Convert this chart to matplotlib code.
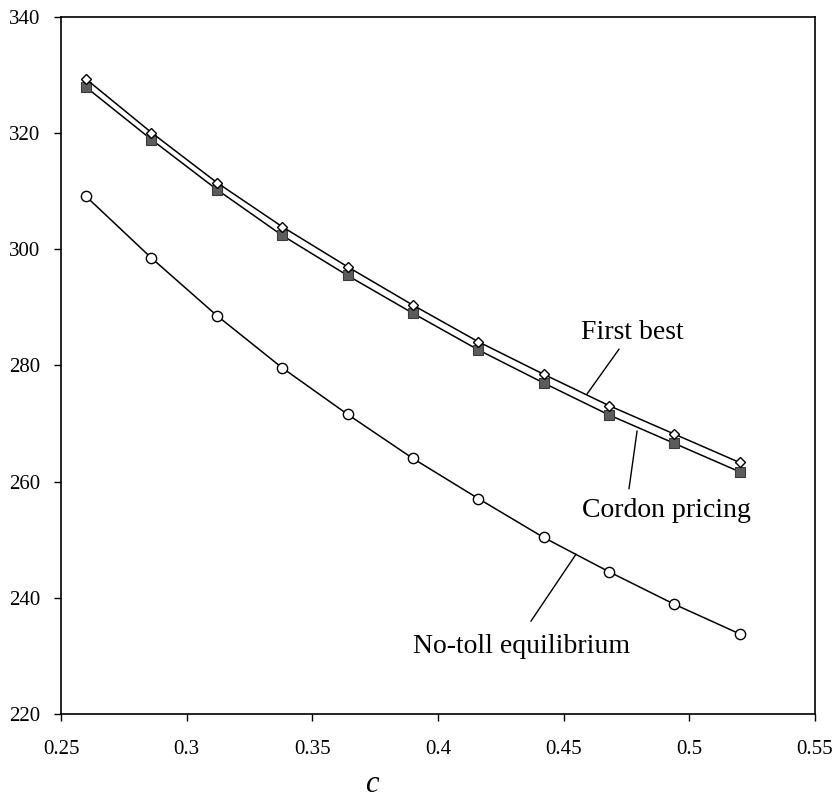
import matplotlib
matplotlib.use("Agg")
import matplotlib.pyplot as plt

c_values = [0.26, 0.286, 0.312, 0.338, 0.364, 0.39, 0.416, 0.442, 0.468, 0.494, 0.52]
first_best = [329.3, 320.1, 311.5, 303.9, 297.0, 290.4, 284.1, 278.5, 273.1, 268.2, 263.3]
cordon_pricing = [327.9, 318.9, 310.3, 302.4, 295.5, 289.0, 282.7, 277.0, 271.5, 266.6, 261.7]
no_toll = [309.1, 298.5, 288.6, 279.6, 271.6, 264.0, 257.1, 250.4, 244.5, 238.9, 233.8]

x_ticks = [0.25, 0.3, 0.35, 0.4, 0.45, 0.5, 0.55]
x_tick_labels = ["0.25", "0.3", "0.35", "0.4", "0.45", "0.5", "0.55"]
y_ticks = [220, 240, 260, 280, 300, 320, 340]
y_tick_labels = ["220", "240", "260", "280", "300", "320", "340"]

plt.rcParams['font.family'] = ['Liberation Serif', 'DejaVu Serif']

fig = plt.figure(figsize=(8.4, 8.0), dpi=100)
ax = fig.add_axes([61/840, 1 - 714/800, (815-61)/840, (714-17)/800])

ax.plot(c_values, no_toll, color='black', lw=1.1, marker='o', ms=7.4,
        mfc='white', mec='black', mew=1.0, zorder=3)
ax.plot(c_values, cordon_pricing, color='black', lw=1.1, marker='s', ms=7.8,
        mfc='#5c5c5c', mec='#3a3a3a', mew=0.8, zorder=3)
ax.plot(c_values, first_best, color='black', lw=1.1, marker='D', ms=5.6,
        mfc='white', mec='black', mew=1.0, zorder=4)

ax.set_xlim(0.25, 0.55)
ax.set_ylim(220, 340)
ax.set_xticks(x_ticks)
ax.set_xticklabels(x_tick_labels)
ax.set_yticks(y_ticks)
ax.set_yticklabels(y_tick_labels)
ax.tick_params(direction='out', length=5, width=1.0, labelsize=15, top=False, right=False)
ax.tick_params(axis='x', pad=14)
ax.tick_params(axis='y', pad=10)
for s in ax.spines.values():
    s.set_linewidth(1.2)

ax.set_xlabel('c', fontsize=22, style='italic', va='center')
ax.xaxis.set_label_coords((372-61)/754, -(785-714)/697)

ax.text(0.4772, 285.6, 'First best', fontsize=20, ha='center', va='center')
ax.plot([0.472, 0.4593], [282.8, 275.1], color='black', lw=1.0)
ax.text(0.4907, 255.1, 'Cordon pricing', fontsize=20, ha='center', va='center')
ax.plot([0.4792, 0.4760], [268.7, 258.8], color='black', lw=1.0)
ax.text(0.4334, 231.7, 'No-toll equilibrium', fontsize=20, ha='center', va='center')
ax.plot([0.4549, 0.4370], [247.5, 236.0], color='black', lw=1.0)

fig.savefig('out.png', dpi=100)
